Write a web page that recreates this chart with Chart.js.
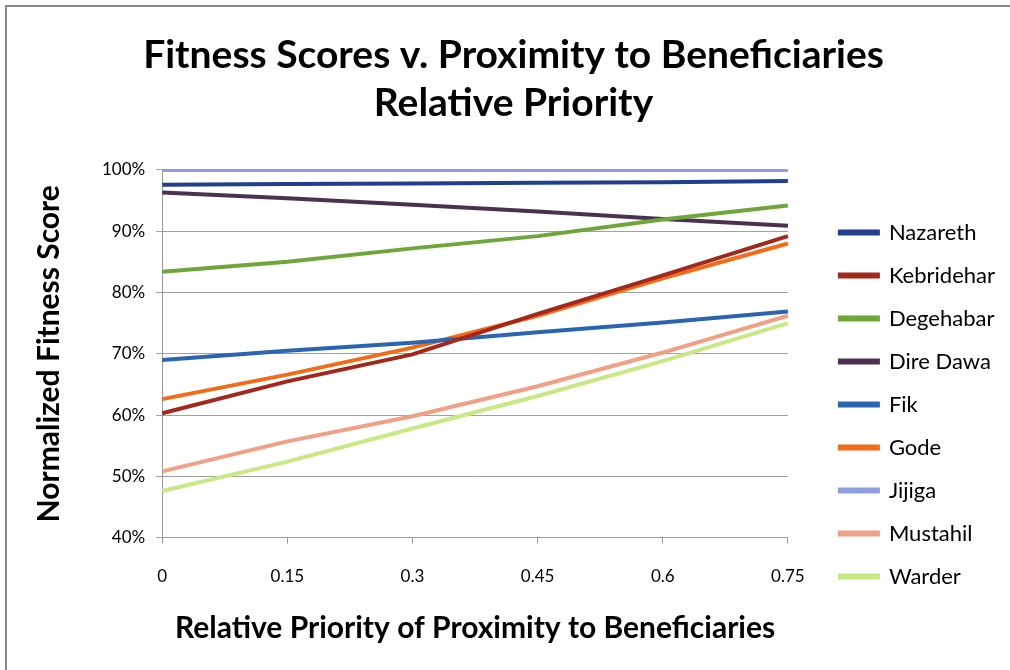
<!DOCTYPE html>
<html>
<head>
<meta charset="utf-8">
<script src="https://cdn.jsdelivr.net/npm/chart.js@4"></script>
<style>
  html, body { margin: 0; padding: 0; background: #fff; }
  #wrap { position: absolute; left: 5px; top: 5px; width: 1005px; height: 665px;
          border-top: 2px solid #8a8a8a; border-left: 2px solid #8a8a8a; box-sizing: border-box; }
  canvas { display: block; }
</style>
</head>
<body>
<div id="wrap"><canvas id="fitnessChart"></canvas></div>
<script>
// x axis: relative priority of proximity to beneficiaries
const priorities = ['0', '0.15', '0.3', '0.45', '0.6', '0.75'];

// Normalized fitness score (%) per location
const nazareth   = [97.6, 97.7, 97.8, 97.9, 98.0, 98.2];
const kebridehar = [60.3, 65.5, 69.9, 76.5, 82.8, 89.2];
const degehabar  = [83.4, 85.0, 87.2, 89.2, 91.9, 94.2];
const direDawa   = [96.3, 95.4, 94.3, 93.2, 92.0, 90.9];
const fik        = [69.0, 70.5, 71.8, 73.5, 75.1, 76.9];
const gode       = [62.6, 66.6, 71.0, 76.2, 82.3, 88.0];
const jijiga     = [100.0, 100.0, 100.0, 100.0, 100.0, 100.0];
const mustahil   = [50.8, 55.7, 59.8, 64.7, 70.2, 76.2];
const warder     = [47.6, 52.4, 57.8, 63.1, 68.8, 75.0];

const locations = ['Nazareth', 'Kebridehar', 'Degehabar', 'Dire Dawa', 'Fik', 'Gode', 'Jijiga', 'Mustahil', 'Warder'];
const series = [nazareth, kebridehar, degehabar, direDawa, fik, gode, jijiga, mustahil, warder];
const colors = ['#203f8c', '#a3281c', '#6fa63a', '#4d2f50', '#2b64b0', '#f36b16', '#8f9fdc', '#f2a085', '#c8e982'];

const font = 'Lato, "Open Sans", sans-serif';

// legend sits a bit away from the plot and lower than centre
const legendGap = 26;
const legendShiftX = 31;
const legendShiftY = 76;
const legendPlacement = {
    id: 'legendPlacement',
    beforeInit(chart) {
        const legend = chart.legend;
        const fit = legend.fit;
        legend.fit = function () {
            fit.call(this);
            this.width += legendGap;
        };
    },
    afterLayout(chart) {
        const legend = chart.legend;
        legend.left += legendShiftX;
        legend.top += legendShiftY;
        legend.bottom += legendShiftY;
    },
};

const ctx = document.getElementById('fitnessChart').getContext('2d');
const chart = new Chart(ctx, {
    type: 'line',
    data: {
        labels: priorities,
        datasets: locations.map((name, i) => ({
            label: name,
            data: series[i],
            borderColor: colors[i],
            backgroundColor: colors[i],
            borderWidth: 4,
            pointRadius: 0,
            tension: 0,
            fill: false,
        })),
    },
    options: {
        responsive: true,
        maintainAspectRatio: false,
        animation: false,
        layout: { padding: { left: 20, right: 10, top: 0, bottom: 20 } },
        plugins: {
            title: {
                display: true,
                text: ['Fitness Scores v. Proximity to Beneficiaries', 'Relative Priority'],
                color: '#000',
                font: { family: font, size: 39, weight: 'bold', lineHeight: 1.23 },
                padding: { top: 24, bottom: 43 },
            },
            legend: {
                position: 'right',
                labels: {
                    color: '#000',
                    font: { family: font, size: 22 },
                    boxWidth: 38,
                    boxHeight: 2,
                    padding: 21,
                },
            },
            tooltip: { enabled: false },
        },
        scales: {
            x: {
                offset: false,
                grid: { display: true, drawOnChartArea: false, drawTicks: true, tickLength: 6, color: '#999' },
                border: { color: '#999' },
                ticks: { color: '#000', font: { family: font, size: 17 }, padding: 23 },
                title: {
                    display: true,
                    text: 'Relative Priority of Proximity to Beneficiaries',
                    color: '#000',
                    font: { family: font, size: 30, weight: 'bold' },
                    padding: { top: 0 },
                },
            },
            y: {
                min: 40,
                max: 100,
                grid: { color: '#a0a0a0', tickLength: 6 },
                border: { color: '#999' },
                ticks: {
                    stepSize: 10,
                    color: '#000',
                    font: { family: font, size: 17 },
                    padding: 11,
                    callback: v => v + '%',
                },
                title: {
                    display: true,
                    text: 'Normalized Fitness Score',
                    color: '#000',
                    font: { family: font, size: 30, weight: 'bold' },
                    padding: { bottom: 24 },
                },
            },
        },
    },
    plugins: [legendPlacement],
});
</script>
</body>
</html>
